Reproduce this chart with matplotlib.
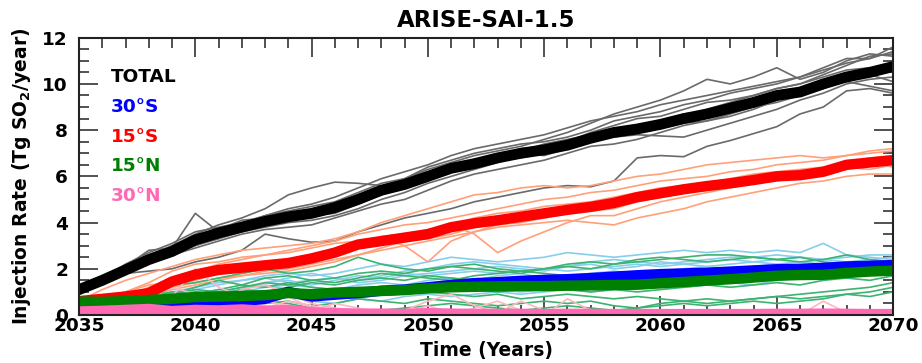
import numpy as np
import matplotlib
matplotlib.use("Agg")
import matplotlib.pyplot as plt
from matplotlib.ticker import MultipleLocator

plt.rcParams['font.family'] = ['DejaVu Sans']
plt.rcParams['font.weight'] = 'bold'
plt.rcParams['axes.labelweight'] = 'bold'
plt.rcParams['axes.titleweight'] = 'bold'
plt.rcParams['mathtext.default'] = 'bf'

years = list(range(2035, 2071))

# ensemble means (Tg SO2/yr)
total_mean = [1.1, 1.5, 1.95, 2.4, 2.75, 3.25, 3.55, 3.8, 4.05, 4.25,
              4.4, 4.65, 5.0, 5.4, 5.65, 6.0, 6.35, 6.55, 6.8, 7.0,
              7.15, 7.35, 7.65, 7.9, 8.05, 8.25, 8.5, 8.7, 8.95, 9.2,
              9.5, 9.65, 10.0, 10.3, 10.5, 10.75]
s15_mean = [0.6, 0.7, 0.8, 0.95, 1.45, 1.75, 1.95, 2.05, 2.15, 2.25,
            2.45, 2.7, 3.05, 3.2, 3.35, 3.5, 3.8, 3.97, 4.1, 4.25,
            4.4, 4.55, 4.68, 4.85, 5.1, 5.27, 5.44, 5.58, 5.7, 5.84,
            6.0, 6.05, 6.2, 6.5, 6.6, 6.7]
s30_mean = [0.15, 0.2, 0.25, 0.3, 0.4, 0.45, 0.5, 0.6, 0.7, 1.0,
            0.8, 0.88, 0.95, 1.05, 1.1, 1.2, 1.3, 1.38, 1.42, 1.48,
            1.52, 1.55, 1.6, 1.66, 1.72, 1.77, 1.8, 1.83, 1.88, 1.93,
            1.98, 2.0, 2.04, 2.1, 2.13, 2.16]
n15_mean = [0.58, 0.57, 0.6, 0.65, 0.7, 0.78, 0.8, 0.82, 0.86, 0.95,
            0.9, 0.97, 1.0, 1.04, 1.08, 1.15, 1.2, 1.22, 1.24, 1.25,
            1.25, 1.27, 1.28, 1.3, 1.31, 1.37, 1.43, 1.49, 1.55, 1.62,
            1.7, 1.73, 1.74, 1.82, 1.88, 1.92]
n30_mean = [0.15, 0.18, 0.22, 0.26, 0.17, 0.22, 0.2, 0.24, 0.18, 0.22,
            0.12, 0.08, 0.06, 0.06, 0.05, 0.08, 0.06, 0.05, 0.05, 0.05,
            0.04, 0.05, 0.05, 0.04, 0.04, 0.04, 0.04, 0.04, 0.04, 0.04,
            0.05, 0.05, 0.06, 0.05, 0.04, 0.04]

# individual ensemble members
total_members = [
    [1.1, 1.5, 2.0, 2.6, 3.0, 3.5, 3.9, 4.2, 4.6, 5.2, 5.5, 5.75, 5.7, 5.6, 5.9, 6.3, 6.6, 6.9, 7.1, 7.3,
     7.6, 7.9, 8.3, 8.7, 9.0, 9.3, 9.7, 10.2, 10.0, 10.3, 10.7, 10.2, 10.5, 11.0, 11.3, 11.2],
    [1.2, 1.6, 2.1, 2.8, 2.9, 4.4, 3.6, 3.9, 4.3, 4.5, 4.7, 4.9, 5.3, 5.7, 5.9, 6.4, 6.7, 7.0, 7.2, 7.4,
     7.5, 7.7, 8.0, 8.4, 8.6, 8.8, 9.1, 9.3, 9.6, 9.8, 10.0, 10.3, 10.6, 10.9, 11.1, 11.4],
    [1.0, 1.4, 1.8, 1.9, 2.0, 2.3, 2.5, 2.8, 3.5, 3.3, 3.15, 3.2, 3.6, 3.9, 4.2, 4.4, 4.6, 4.9, 5.1, 5.3,
     5.5, 5.6, 5.55, 5.8, 6.8, 6.9, 6.85, 7.3, 7.55, 7.85, 8.15, 8.7, 9.0, 9.7, 9.8, 9.6],
    [1.1, 1.5, 1.9, 2.3, 2.7, 3.1, 3.3, 3.6, 3.8, 4.0, 4.1, 4.3, 4.6, 5.0, 5.3, 5.7, 6.0, 6.3, 6.6, 6.9,
     7.2, 7.3, 7.6, 7.9, 8.0, 8.1, 8.3, 8.4, 8.6, 8.9, 9.3, 9.6, 9.9, 10.1, 9.9, 9.7],
    [1.2, 1.6, 2.0, 2.5, 2.8, 3.2, 3.4, 3.7, 4.1, 4.4, 4.5, 4.7, 5.1, 5.5, 5.8, 6.1, 6.4, 6.5, 6.8, 7.1,
     7.4, 7.6, 7.8, 7.7, 7.8, 7.75, 7.7, 8.0, 8.3, 8.6, 8.9, 9.3, 9.6, 10.0, 10.2, 10.3],
    [1.1, 1.6, 2.2, 2.7, 3.1, 3.6, 3.8, 4.0, 4.3, 4.6, 4.8, 5.1, 5.5, 5.9, 6.2, 6.5, 6.9, 7.2, 7.4, 7.6,
     7.8, 8.1, 8.4, 8.6, 8.8, 9.1, 9.3, 9.5, 9.7, 9.9, 10.1, 10.3, 10.7, 11.1, 11.1, 11.6],
    [1.0, 1.4, 1.9, 2.4, 2.6, 2.9, 3.2, 3.5, 3.7, 3.8, 3.9, 4.2, 4.5, 4.8, 5.0, 5.4, 5.8, 6.1, 6.3, 6.5,
     6.7, 7.0, 7.3, 7.4, 7.6, 7.9, 8.2, 8.4, 8.7, 9.0, 9.2, 9.5, 9.8, 10.2, 10.5, 10.9],
    [1.1, 1.5, 2.1, 2.5, 3.0, 3.4, 3.7, 4.1, 4.2, 4.1, 4.4, 4.8, 5.2, 5.4, 5.6, 5.9, 6.2, 6.6, 6.9, 7.2,
     7.3, 7.5, 7.9, 8.2, 8.5, 8.6, 8.9, 9.2, 9.3, 9.5, 9.8, 10.0, 10.4, 10.8, 11.2, 11.3],
    [1.2, 1.7, 2.0, 2.4, 2.8, 3.3, 3.6, 3.7, 4.0, 4.3, 4.4, 4.6, 4.9, 5.3, 5.6, 6.0, 6.4, 6.6, 6.9, 7.0,
     6.9, 7.2, 7.6, 8.0, 8.2, 8.4, 8.7, 8.8, 9.1, 9.3, 9.4, 9.7, 10.1, 10.3, 10.4, 10.1],
    [1.1, 1.5, 2.0, 2.3, 2.6, 3.0, 3.3, 3.8, 4.1, 4.2, 4.3, 4.4, 4.8, 5.2, 5.5, 5.8, 6.3, 6.5, 6.7, 6.8,
     7.0, 7.3, 7.5, 7.8, 8.1, 8.4, 8.6, 8.9, 9.2, 9.5, 9.8, 10.0, 10.3, 10.6, 10.7, 10.5],
]
s15_members = [
    [0.6, 1.1, 1.5, 1.8, 2.1, 2.4, 2.6, 2.8, 2.9, 3.0, 3.1, 3.3, 3.6, 4.0, 4.3, 4.6, 4.9, 5.2, 5.3, 5.5,
     5.6, 5.5, 5.6, 5.8, 6.0, 6.1, 6.3, 6.5, 6.6, 6.7, 6.8, 6.9, 6.8, 6.9, 7.1, 7.2],
    [0.5, 0.6, 0.8, 1.2, 1.6, 1.9, 2.2, 2.4, 2.6, 2.7, 2.9, 3.1, 3.2, 3.3, 3.0, 2.3, 3.2, 3.6, 3.9, 4.0,
     4.2, 4.4, 4.6, 4.8, 5.0, 5.2, 5.4, 5.5, 5.6, 5.8, 6.0, 6.1, 6.3, 6.4, 6.6, 6.9],
    [0.6, 0.7, 0.9, 1.1, 1.3, 1.5, 1.8, 2.1, 2.2, 2.4, 2.5, 2.7, 3.0, 3.2, 3.4, 3.6, 3.9, 3.5, 2.7, 3.2,
     3.6, 4.0, 4.3, 4.3, 4.6, 4.9, 5.1, 5.3, 5.5, 5.7, 5.8, 6.0, 6.1, 6.3, 6.5, 6.6],
    [0.5, 0.6, 0.7, 0.9, 1.2, 1.4, 1.6, 1.7, 1.9, 2.0, 2.2, 2.4, 2.6, 2.8, 3.0, 3.2, 3.4, 3.6, 3.8, 3.9,
     4.0, 4.1, 4.0, 3.9, 4.2, 4.4, 4.6, 4.9, 5.1, 5.3, 5.5, 5.7, 5.8, 6.0, 6.1, 6.1],
    [0.6, 0.8, 1.0, 1.4, 1.9, 2.2, 2.3, 2.5, 2.6, 2.8, 3.0, 3.2, 3.5, 3.7, 3.9, 4.0, 4.2, 4.4, 4.6, 4.8,
     5.0, 5.1, 5.3, 5.4, 5.6, 5.8, 5.9, 6.0, 6.2, 6.3, 6.5, 6.6, 6.7, 6.9, 7.0, 7.1],
    [0.6, 0.7, 0.8, 1.0, 1.5, 1.8, 1.9, 1.8, 2.0, 2.2, 2.3, 2.6, 3.0, 3.1, 3.3, 3.4, 3.7, 3.9, 4.1, 4.3,
     4.4, 4.6, 4.7, 4.9, 5.0, 5.1, 5.3, 5.5, 5.6, 5.7, 5.9, 6.0, 6.3, 6.5, 6.6, 6.4],
    [0.5, 0.7, 1.0, 1.3, 1.4, 1.6, 2.0, 2.2, 2.1, 2.3, 2.5, 2.8, 3.1, 3.4, 3.5, 3.7, 3.9, 4.2, 4.4, 4.5,
     4.7, 4.8, 4.9, 5.1, 5.3, 5.5, 5.6, 5.7, 5.9, 6.1, 6.2, 6.3, 6.4, 6.6, 6.8, 6.9],
    [0.6, 0.6, 0.7, 0.8, 1.1, 1.3, 1.5, 1.7, 1.8, 1.9, 2.1, 2.3, 2.6, 2.9, 3.2, 3.3, 3.5, 3.8, 4.0, 4.1,
     4.2, 4.4, 4.5, 4.6, 4.9, 5.1, 5.3, 5.4, 5.6, 5.8, 5.9, 6.0, 6.2, 6.4, 6.3, 6.5],
]
s30_members = [
    [0.2, 0.4, 0.6, 0.8, 1.0, 1.2, 1.4, 1.5, 1.7, 1.8, 1.7, 1.8, 2.0, 2.2, 2.1, 2.3, 2.5, 2.4, 2.3, 2.4,
     2.5, 2.7, 2.6, 2.5, 2.6, 2.7, 2.8, 2.7, 2.8, 2.7, 2.8, 2.7, 3.1, 2.6, 2.5, 2.4],
    [0.1, 0.2, 0.3, 0.5, 0.8, 1.1, 1.3, 1.5, 1.6, 1.4, 1.5, 1.6, 1.5, 1.7, 1.9, 2.0, 2.2, 2.3, 2.2, 2.1,
     2.0, 2.1, 2.3, 2.4, 2.3, 2.2, 2.3, 2.4, 2.5, 2.5, 2.6, 2.5, 2.4, 2.3, 2.4, 2.5],
    [0.1, 0.1, 0.2, 0.4, 0.6, 0.9, 1.1, 1.0, 1.2, 1.3, 1.2, 1.1, 1.3, 1.4, 1.3, 1.5, 1.6, 1.5, 1.7, 1.8,
     1.6, 1.7, 1.8, 1.9, 1.8, 1.9, 2.0, 2.1, 2.0, 2.1, 2.2, 2.1, 2.2, 2.3, 2.2, 2.3],
    [0.2, 0.3, 0.3, 0.5, 0.7, 0.8, 1.0, 1.2, 1.3, 1.1, 0.9, 1.0, 1.2, 1.1, 1.0, 1.2, 1.1, 1.2, 1.1, 1.0,
     1.1, 1.2, 1.3, 1.2, 1.3, 1.4, 1.5, 1.4, 1.5, 1.6, 1.7, 1.6, 1.8, 1.9, 2.0, 2.1],
    [0.1, 0.2, 0.4, 0.6, 0.5, 0.7, 0.9, 1.1, 1.4, 1.6, 1.8, 1.6, 1.4, 1.5, 1.7, 1.8, 1.9, 2.0, 2.1, 2.0,
     1.9, 2.1, 2.2, 2.0, 2.1, 2.3, 2.2, 2.3, 2.4, 2.3, 2.4, 2.5, 2.4, 2.5, 2.6, 2.6],
    [0.1, 0.1, 0.2, 0.2, 0.3, 0.5, 0.6, 0.8, 0.7, 0.9, 1.0, 0.8, 0.7, 0.6, 0.8, 0.9, 0.8, 0.9, 1.0, 0.9,
     1.0, 1.1, 1.0, 1.1, 1.2, 1.3, 1.2, 1.3, 1.4, 1.3, 1.5, 1.6, 1.7, 1.6, 1.8, 1.9],
    [0.2, 0.3, 0.5, 0.7, 0.9, 1.0, 0.9, 1.1, 1.4, 1.5, 1.3, 1.5, 1.7, 1.6, 1.8, 1.7, 1.8, 1.9, 1.8, 1.9,
     2.0, 1.9, 2.0, 2.1, 2.2, 2.1, 2.2, 2.1, 2.2, 2.3, 2.2, 2.3, 2.2, 2.3, 2.2, 2.3],
    [0.1, 0.2, 0.2, 0.3, 0.4, 0.6, 0.8, 0.9, 1.0, 0.8, 0.6, 0.5, 0.7, 0.9, 1.1, 1.3, 1.4, 1.3, 1.5, 1.6,
     1.4, 1.5, 1.4, 1.6, 1.7, 1.6, 1.8, 1.7, 1.8, 1.9, 1.8, 2.0, 2.1, 2.0, 2.1, 2.0],
]
n15_members = [
    [0.5, 0.7, 0.9, 1.1, 1.3, 1.4, 1.6, 1.8, 2.0, 1.8, 1.9, 2.1, 2.5, 2.2, 2.0, 1.9, 2.1, 2.0, 1.9, 1.8,
     2.0, 2.2, 2.3, 2.2, 2.3, 2.4, 2.5, 2.6, 2.6, 2.5, 2.4, 2.3, 2.4, 2.6, 2.4, 2.3],
    [0.6, 0.6, 0.8, 1.0, 0.9, 1.2, 1.5, 1.3, 1.6, 1.7, 1.5, 1.6, 1.8, 1.9, 1.8, 2.0, 2.1, 2.2, 2.0, 1.9,
     2.0, 2.1, 2.0, 2.2, 2.4, 2.5, 2.4, 2.3, 2.4, 2.5, 2.4, 2.5, 2.3, 2.2, 2.1, 2.0],
    [0.5, 0.5, 0.4, 0.6, 0.8, 1.0, 0.9, 1.1, 1.0, 1.2, 1.4, 1.3, 1.5, 1.6, 1.5, 1.7, 1.6, 1.5, 1.6, 1.5,
     1.7, 1.6, 1.7, 1.8, 1.7, 1.8, 1.9, 1.8, 2.0, 1.9, 1.8, 2.0, 2.1, 2.2, 2.0, 1.9],
    [0.6, 0.4, 0.3, 0.2, 0.4, 0.3, 0.2, 0.4, 0.6, 0.5, 0.3, 0.2, 0.1, 0.2, 0.3, 0.4, 0.5, 0.4, 0.3, 0.2,
     0.3, 0.4, 0.3, 0.2, 0.3, 0.5, 0.6, 0.5, 0.6, 0.7, 0.8, 0.7, 0.8, 0.9, 1.0, 1.2],
    [0.6, 0.7, 0.6, 0.8, 1.0, 0.9, 1.1, 1.3, 1.2, 1.4, 1.2, 1.1, 1.0, 1.2, 1.1, 1.0, 0.9, 0.8, 0.9, 0.7,
     0.8, 0.9, 0.8, 0.7, 0.8, 0.7, 0.6, 0.7, 0.6, 0.7, 0.8, 0.9, 1.0, 1.1, 1.2, 1.4],
    [0.5, 0.6, 0.8, 0.7, 0.9, 1.1, 1.0, 1.2, 1.4, 1.3, 1.5, 1.4, 1.6, 1.8, 1.7, 1.6, 1.5, 1.7, 1.8, 1.9,
     1.8, 1.7, 1.6, 1.5, 1.6, 1.7, 1.6, 1.5, 1.6, 1.7, 1.8, 1.9, 1.8, 1.7, 1.8, 1.7],
    [0.6, 0.5, 0.7, 0.9, 0.7, 0.6, 0.8, 0.7, 0.9, 0.8, 0.7, 0.9, 1.0, 0.9, 1.1, 1.0, 1.2, 1.1, 1.0, 1.1,
     1.2, 1.1, 1.0, 1.1, 1.0, 1.1, 1.2, 1.3, 1.2, 1.3, 1.4, 1.3, 1.5, 1.6, 1.5, 1.7],
    [0.5, 0.6, 0.5, 0.4, 0.6, 0.8, 0.7, 0.6, 0.5, 0.6, 0.4, 0.5, 0.7, 0.6, 0.5, 0.7, 0.6, 0.5, 0.4, 0.5,
     0.6, 0.5, 0.6, 0.4, 0.3, 0.4, 0.5, 0.4, 0.5, 0.6, 0.5, 0.6, 0.7, 0.9, 0.8, 1.0],
]
n30_members = [
    [0.2, 0.4, 0.6, 1.0, 0.8, 2.0, 1.2, 0.8, 0.6, 0.4, 0.2, 0.1, 0.0, 0.0, 0.0, 0.1, 0.0, 0.0, 0.0, 0.0,
     0.0, 0.0, 0.0, 0.0, 0.0, 0.0, 0.0, 0.0, 0.0, 0.0, 0.0, 0.0, 0.0, 0.0, 0.0, 0.0],
    [0.1, 0.2, 0.5, 0.8, 1.2, 0.9, 0.6, 1.1, 1.3, 0.9, 0.5, 0.3, 0.2, 0.1, 0.0, 0.0, 0.0, 0.3, 0.6, 0.2,
     0.0, 0.7, 0.2, 0.0, 0.0, 0.0, 0.0, 0.0, 0.0, 0.0, 0.0, 0.0, 0.0, 0.0, 0.0, 0.0],
    [0.2, 0.3, 0.2, 0.5, 0.3, 0.6, 0.9, 0.5, 0.3, 0.6, 0.4, 0.2, 0.1, 0.0, 0.0, 0.2, 0.0, 0.0, 0.0, 0.0,
     0.0, 0.0, 0.0, 0.0, 0.0, 0.0, 0.0, 0.0, 0.0, 0.0, 0.0, 0.0, 0.6, 0.1, 0.0, 0.0],
    [0.1, 0.1, 0.3, 0.2, 0.4, 0.7, 0.4, 0.2, 0.5, 0.8, 0.3, 0.1, 0.0, 0.0, 0.1, 0.4, 0.1, 0.0, 0.0, 0.0,
     0.0, 0.0, 0.0, 0.0, 0.0, 0.0, 0.0, 0.0, 0.0, 0.0, 0.0, 0.0, 0.0, 0.0, 0.0, 0.0],
    [0.2, 0.2, 0.1, 0.3, 0.2, 0.4, 0.3, 0.6, 0.4, 0.3, 0.2, 0.5, 0.3, 0.1, 0.2, 0.6, 0.9, 0.4, 0.1, 0.6,
     0.2, 0.0, 0.0, 0.0, 0.0, 0.0, 0.0, 0.0, 0.0, 0.0, 0.0, 0.0, 0.0, 0.0, 0.0, 0.0],
]

labels = ["TOTAL", "30°S", "15°S", "15°N", "30°N"]
label_colors = ["black", "#0000ff", "#ff0000", "#008000", "#ff69b4"]

fig = plt.figure(figsize=(9.22, 3.63), dpi=100)
ax = fig.add_axes([0.0857, 0.1322, 0.8829, 0.7639])

# thin member lines
for m in total_members:
    ax.plot(years, m, color="#6a6a6a", lw=1.2)
for m in s15_members:
    ax.plot(years, m, color="#ffa07a", lw=1.2)
for m in s30_members:
    ax.plot(years, m, color="#87ceeb", lw=1.2)
for m in n15_members:
    ax.plot(years, m, color="#3cb371", lw=1.2)
for m in n30_members:
    ax.plot(years, m, color="#ffb6c1", lw=1.2)

# thick ensemble means
ax.plot(years, total_mean, color="black", lw=7.8)
ax.plot(years, s30_mean, color="#0000ff", lw=7.5)
ax.plot(years, s15_mean, color="#ff0000", lw=7.5)
ax.plot(years, n15_mean, color="#008000", lw=7.5)
ax.plot(years, n30_mean, color="#ff69b4", lw=7.5)

ax.set_xlim(2035, 2070)
ax.set_ylim(0, 12)
ax.xaxis.set_major_locator(MultipleLocator(5))
ax.xaxis.set_minor_locator(MultipleLocator(1))
ax.yaxis.set_major_locator(MultipleLocator(2))
ax.yaxis.set_minor_locator(MultipleLocator(0.5))

for s in ax.spines.values():
    s.set_linewidth(1.5)
    s.set_color("#222222")
ax.tick_params(which="both", direction="in", top=True, right=True,
               color="#222222", width=1.1, labelsize=13.3)
ax.tick_params(which="major", length=13.5)
ax.tick_params(which="minor", length=7)
ax.tick_params(axis="x", pad=1.5)
ax.tick_params(axis="y", pad=8)

ax.set_title("ARISE-SAI-1.5", fontsize=16.5, pad=8)
ax.set_xlabel("Time (Years)", fontsize=13.5)
ax.set_ylabel("Injection Rate (Tg SO$_2$/year)", fontsize=13.5)
ax.xaxis.set_label_coords(0.5, -0.094)
ax.yaxis.set_label_coords(-0.057, 0.5)

ypos = [0.858, 0.751, 0.643, 0.537, 0.429]
for txt, c, yy in zip(labels, label_colors, ypos):
    ax.text(0.039, yy, txt, color=c, fontsize=13.3, fontweight="bold",
            transform=ax.transAxes, va="center", ha="left")

fig.savefig("out.png", dpi=100)
